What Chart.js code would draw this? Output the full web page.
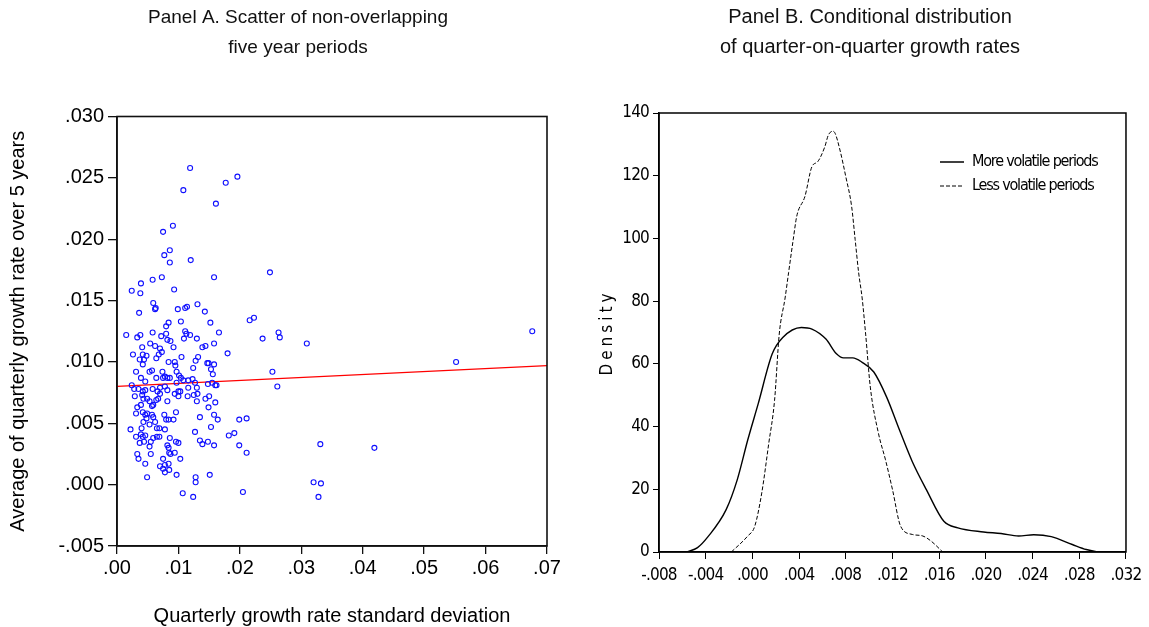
<!DOCTYPE html>
<html>
<head>
<meta charset="utf-8">
<title>Growth volatility panels</title>
<script src="https://cdn.jsdelivr.net/npm/chart.js@4.4.1/dist/chart.umd.min.js"></script>
<style>
  html, body { margin: 0; padding: 0; background: #fff; }
  #wrap { position: relative; width: 1149px; height: 627px; overflow: hidden; }
  .panel { position: absolute; top: 0; height: 627px; }
  #panelA { left: 0; width: 575px; }
  #panelB { left: 575px; width: 574px; }
</style>
</head>
<body>
<div id="wrap">
  <div class="panel" id="panelA"><canvas id="scatterChart"></canvas></div>
  <div class="panel" id="panelB"><canvas id="densityChart"></canvas></div>
</div>
<script>
// ---- Panel A: one point per five-year period ----
// x = quarterly growth rate std dev, y = average quarterly growth over the period
const sdGrowth = [
  .0119, .0196, .0177, .0108, .0161, .0091, .0075, .0086, .0077, .0120,
  .0086, .0073, .0158, .0249, .0058, .0039, .0024, .0038, .0093, .0059,
  .0063, .0062, .0036, .0099, .0111, .0114, .0131, .0143, .0104, .0152,
  .0084, .0080, .0216, .0223, .0058, .0015, .0033, .0038, .0072, .0080,
  .0111, .0113, .0119, .0109, .0130, .0166, .0237, .0263, .0265, .0082,
  .0087, .0309, .0158, .0139, .0144, .0054, .0062, .0041, .0070, .0073,
  .0068, .0092, .0180, .0026, .0042, .0048, .0037, .0044, .0042, .0064,
  .0105, .0132, .0128, .0084, .0094, .0095, .0147, .0149, .0158, .0124,
  .0153, .0156, .0253, .0676, .0552, .0331, .0419, .0320, .0332, .0328,
  .0031, .0039, .0046, .0053, .0057, .0064, .0074, .0075, .0078, .0082,
  .0086, .0097, .0024, .0028, .0035, .0042, .0046, .0058, .0066, .0070,
  .0078, .0082, .0094, .0100, .0101, .0104, .0108, .0116, .0123, .0127,
  .0130, .0097, .0116, .0103, .0100, .0115, .0125, .0131, .0130, .0148,
  .0155, .0160, .0162, .0144, .0150, .0160, .0149, .0261, .0029, .0041,
  .0043, .0049, .0053, .0057, .0059, .0064, .0067, .0082, .0070, .0033,
  .0039, .0031, .0042, .0046, .0049, .0048, .0057, .0059, .0043, .0053,
  .0062, .0065, .0069, .0077, .0080, .0084, .0092, .0096, .0022, .0040,
  .0031, .0039, .0042, .0046, .0044, .0037, .0053, .0059, .0065, .0069,
  .0055, .0078, .0086, .0096, .0100, .0082, .0084, .0085, .0087, .0075,
  .0094, .0033, .0035, .0046, .0055, .0070, .0075, .0078, .0084, .0085,
  .0097, .0049, .0078, .0135, .0158, .0164, .0153, .0199, .0211, .0127,
  .0135, .0139, .0148, .0158, .0182, .0191, .0199, .0211, .0103, .0128,
  .0151, .0107, .0124, .0205, .0128
];
const meanGrowth = [
  .0258, .0251, .0246, .0240, .0229, .0211, .0206, .0191, .0187, .0183,
  .0181, .0169, .0169, .0173, .0167, .0164, .0158, .0156, .0159, .0148,
  .0144, .0143, .0140, .0143, .0144, .0145, .0147, .0141, .0133, .0132,
  .0132, .0129, .0134, .0136, .0124, .0122, .0120, .0122, .0121, .0123,
  .0125, .0123, .0122, .0119, .0119, .0124, .0119, .0124, .0120, .0118,
  .0117, .0115, .0115, .0112, .0113, .0115, .0113, .0112, .0111, .0108,
  .0106, .0112, .0107, .0106, .0106, .0105, .0102, .0102, .0098, .0103,
  .0104, .0104, .0101, .0100, .0100, .0097, .0099, .0099, .0098, .0095,
  .0094, .0090, .0092, .0125, .0100, .0033, .0030, .0002, .0001, -.0010,
  .0092, .0087, .0084, .0092, .0093, .0087, .0092, .0087, .0088, .0087,
  .0087, .0092, .0081, .0078, .0078, .0076, .0077, .0078, .0076, .0079,
  .0080, .0077, .0074, .0076, .0089, .0087, .0085, .0085, .0086, .0083,
  .0079, .0083, .0079, .0076, .0072, .0072, .0073, .0074, .0068, .0082,
  .0083, .0081, .0081, .0070, .0072, .0067, .0063, .0080, .0072, .0073,
  .0070, .0070, .0068, .0064, .0065, .0069, .0070, .0068, .0074, .0063,
  .0065, .0058, .0059, .0057, .0058, .0054, .0057, .0055, .0051, .0049,
  .0051, .0046, .0046, .0057, .0053, .0053, .0053, .0059, .0045, .0046,
  .0039, .0041, .0039, .0040, .0035, .0034, .0031, .0038, .0039, .0039,
  .0035, .0045, .0038, .0035, .0034, .0032, .0030, .0026, .0025, .0021,
  .0026, .0025, .0021, .0017, .0025, .0015, .0013, .0010, .0017, .0012,
  .0008, .0006, .0016, .0055, .0057, .0053, .0047, .0053, .0054, .0043,
  .0036, .0033, .0035, .0032, .0040, .0042, .0032, .0026, .0021, .0006,
  .0008, -.0007, -.0010, -.0006, .0002
];
// fitted line, read at the two ends of the x range
const fitX = [0.0, 0.07];
const fitY = [0.0080, 0.0097];

const scatterXTicks = [0, .01, .02, .03, .04, .05, .06, .07];
const scatterXLabels = ['.00', '.01', '.02', '.03', '.04', '.05', '.06', '.07'];
const scatterYTicks = [-.005, 0, .005, .010, .015, .020, .025, .030];
const scatterYLabels = ['-.005', '.000', '.005', '.010', '.015', '.020', '.025', '.030'];

// ---- Panel B: kernel densities of quarter-on-quarter growth ----
const moreVolX = [-.0056, -.0047, -.0038, -.00225, -.0013, -.0004, .0005, .0017, .0026, .0042,
  .0051, .0063, .0072, .0078, .0086, .0094, .0104, .0115, .0126, .0137,
  .0149, .0164, .0176, .0198, .0213, .0228, .0241, .0256, .0274, .0286, .0296];
const moreVolY = [0, 1.4, 4.9, 13.5, 23.0, 35.7, 47.3, 63.2, 68.4, 71.6,
  71.1, 67.9, 63.2, 61.9, 61.9, 60.5, 57.4, 49.4, 38.9, 28.8,
  19.9, 9.8, 7.7, 6.4, 5.9, 5.1, 5.5, 4.9, 2.4, 0.8, 0];
const lessVolX = [-.0018, -.0004, .0002, .0008, .0014, .0019, .0023, .0028, .0031, .0035,
  .0038, .0045, .0051, .0056, .0062, .0065, .0069, .0071, .0075, .0080,
  .0085, .0088, .0091, .0094, .0097, .0101, .0108, .0114, .0120, .0127,
  .0137, .0146, .0153, .0163];
const lessVolY = [0, 5.1, 8.2, 18.8, 34.6, 48.4, 69.5, 81, 89.1, 99.7,
  107.1, 113.4, 122.9, 124.5, 129.2, 132.9, 134.2, 133.4, 128.2, 119.7,
  110.2, 99.7, 89.1, 81, 69.5, 52.6, 37.8, 29.4, 19.9, 8.2,
  5.6, 5.1, 3.5, 0];

const densityXTicks = [-.008, -.004, 0, .004, .008, .012, .016, .020, .024, .028, .032];
const densityXLabels = ['-.008', '-.004', '.000', '.004', '.008', '.012', '.016', '.020', '.024', '.028', '.032'];
const densityYTicks = [0, 20, 40, 60, 80, 100, 120, 140];
const densityYLabels = ['0', '20', '40', '60', '80', '100', '120', '140'];

const SANS = "'Liberation Sans', Arial, sans-serif";
// EViews uses Arial Narrow on this panel; closest installed face
const NARROW = "'DejaVu Sans Condensed', 'Liberation Sans', sans-serif";

const toPoints = (xs, ys) => xs.map((x, i) => ({ x: x, y: ys[i] }));

// run one drawing method of a scale / legend with canvas letter spacing
function spaced(obj, method, spacing) {
  if (obj['_sp_' + method]) return;
  const orig = obj[method];
  obj[method] = function (...args) {
    this.ctx.save();
    this.ctx.letterSpacing = spacing;
    orig.apply(this, args);
    this.ctx.restore();
  };
  obj['_sp_' + method] = true;
}

// box round the plot area (EViews style)
const framePlugin = {
  id: 'frame',
  afterDatasetsDraw(chart, args, opts) {
    const { ctx, chartArea: a } = chart;
    ctx.save();
    ctx.strokeStyle = opts.color || '#000';
    ctx.lineWidth = opts.width || 1.5;
    ctx.strokeRect(a.left, a.top, a.right - a.left, a.bottom - a.top);
    ctx.restore();
  }
};

// move the legend to the upper right inside the plot
const legendSpot = {
  id: 'legendSpot',
  afterLayout(chart, args, opts) {
    const lg = chart.legend;
    if (!lg || !opts.dx) return;
    const a = chart.chartArea;
    const w = lg.width, h = lg.height;
    lg.left = a.left + opts.dx;
    lg.top = a.top + opts.dy;
    lg.right = lg.left + w;
    lg.bottom = lg.top + h;
    if (opts.spacing) spaced(lg, 'draw', opts.spacing);
  }
};

// legend samples take the dataset's own line width and dash
const lineLegendLabels = (chart) =>
  Chart.defaults.plugins.legend.labels.generateLabels(chart).map((item) => {
    const ds = chart.data.datasets[item.datasetIndex];
    return Object.assign(item, {
      lineDash: ds.borderDash || [],
      lineWidth: ds.borderWidth,
      strokeStyle: ds.borderColor,
      fillStyle: 'rgba(0,0,0,0)',
    });
  });

Chart.defaults.font.family = SANS;
Chart.defaults.color = '#000';
Chart.defaults.animation = false;

const tickSetter = (values) => (axis) => { axis.ticks = values.map(v => ({ value: v })); };

new Chart(document.getElementById('scatterChart'), {
  type: 'scatter',
  data: {
    datasets: [
      {
        label: 'Five year periods',
        data: toPoints(sdGrowth, meanGrowth),
        pointStyle: 'circle',
        pointRadius: 2.5,
        pointBorderWidth: 1.1,
        borderColor: '#1010ff',
        backgroundColor: 'rgba(0,0,0,0)',
      },
      {
        type: 'line',
        label: 'Fit',
        data: toPoints(fitX, fitY),
        borderColor: '#ff0000',
        borderWidth: 1.2,
        pointRadius: 0,
        fill: false,
      },
    ],
  },
  options: {
    responsive: true,
    maintainAspectRatio: false,
    layout: { padding: { left: 49, right: 28, top: 0, bottom: 0 } },
    plugins: {
      legend: { display: false },
      tooltip: { enabled: false },
      title: {
        display: true,
        text: ['Panel A. Scatter of non-overlapping', 'five year periods'],
        color: '#111',
        font: { family: SANS, size: 19, weight: 'normal', lineHeight: 30 / 19 },
        padding: { top: 2.5, bottom: 54 },
      },
      frame: { color: '#111', width: 1.6 },
    },
    scales: {
      x: {
        type: 'linear',
        min: 0,
        max: 0.07,
        afterBuildTicks: tickSetter(scatterXTicks),
        afterFit: (axis) => { axis.height = 81; },
        ticks: {
          callback: (v, i) => scatterXLabels[i],
          font: { size: 20 },
          padding: 2,
          maxRotation: 0,
        },
        grid: { drawOnChartArea: false, drawTicks: true, tickLength: 8, color: '#111', lineWidth: 1.3 },
        border: { display: true, color: '#111', width: 1.6 },
        title: {
          display: true,
          text: 'Quarterly growth rate standard deviation',
          font: { size: 20 },
          padding: { top: 0, bottom: -1 },
        },
      },
      y: {
        type: 'linear',
        min: -0.005,
        max: 0.030,
        afterBuildTicks: tickSetter(scatterYTicks),
        afterFit: (axis) => { axis.width = 68; },
        ticks: {
          callback: (v, i) => scatterYLabels[i],
          font: { size: 20 },
          padding: 4,
        },
        grid: { drawOnChartArea: false, drawTicks: true, tickLength: 9, color: '#111', lineWidth: 1.3 },
        border: { display: true, color: '#111', width: 1.6 },
        title: {
          display: true,
          text: 'Average of quarterly growth rate over 5 years',
          font: { size: 20 },
          padding: { top: -43, bottom: 0 },
        },
      },
    },
  },
  plugins: [framePlugin],
});

new Chart(document.getElementById('densityChart'), {
  type: 'line',
  data: {
    datasets: [
      {
        label: 'More volatile periods',
        data: toPoints(moreVolX, moreVolY),
        borderColor: '#000',
        borderWidth: 1.4,
        pointRadius: 0,
        cubicInterpolationMode: 'monotone',
        fill: false,
      },
      {
        label: 'Less volatile periods',
        data: toPoints(lessVolX, lessVolY),
        borderColor: '#000',
        borderWidth: 1,
        borderDash: [4, 2],
        pointRadius: 0,
        cubicInterpolationMode: 'monotone',
        fill: false,
      },
    ],
  },
  options: {
    responsive: true,
    maintainAspectRatio: false,
    layout: { padding: { left: 30, right: 14, top: 0, bottom: 0 } },
    plugins: {
      tooltip: { enabled: false },
      title: {
        display: true,
        text: ['Panel B. Conditional distribution', 'of quarter-on-quarter growth rates'],
        color: '#111',
        font: { family: SANS, size: 20, weight: 'normal', lineHeight: 30 / 20 },
        padding: { top: 2.5, bottom: 50.5 },
      },
      legend: {
        display: true,
        position: 'chartArea',
        align: 'start',
        labels: {
          usePointStyle: true,
          pointStyle: 'line',
          pointStyleWidth: 24,
          padding: 8,
          color: '#000',
          font: { family: NARROW, size: 16 },
          generateLabels: lineLegendLabels,
        },
      },
      legendSpot: { dx: 273, dy: 33, spacing: '-1.2px' },
      frame: { color: '#000', width: 1.5 },
    },
    scales: {
      x: {
        type: 'linear',
        min: -0.008,
        max: 0.032,
        afterBuildTicks: tickSetter(densityXTicks),
        afterFit: (axis) => {
          axis.height = 75;
          spaced(axis, 'drawLabels', '-0.8px');
        },
        ticks: {
          callback: (v, i) => densityXLabels[i],
          font: { family: NARROW, size: 17 },
          padding: 6,
          maxRotation: 0,
        },
        grid: { drawOnChartArea: false, drawTicks: true, tickLength: 7, color: '#000', lineWidth: 1 },
        border: { display: true, color: '#000', width: 1.5 },
      },
      y: {
        type: 'linear',
        min: 0,
        max: 140,
        afterBuildTicks: tickSetter(densityYTicks),
        afterFit: (axis) => {
          axis.width = 54;
          // EViews spaces the letters of the axis label
          spaced(axis, 'drawTitle', '4px');
          spaced(axis, 'drawLabels', '-0.8px');
        },
        ticks: {
          callback: (v, i) => densityYLabels[i],
          font: { family: NARROW, size: 17 },
          padding: 4,
        },
        grid: { drawOnChartArea: false, drawTicks: true, tickLength: 6, color: '#000', lineWidth: 1 },
        border: { display: true, color: '#000', width: 1.5 },
        title: {
          display: true,
          text: 'Density',
          font: { family: NARROW, size: 17 },
          padding: { top: -8, bottom: 0 },
        },
      },
    },
  },
  plugins: [framePlugin, legendSpot],
});
</script>
</body>
</html>
